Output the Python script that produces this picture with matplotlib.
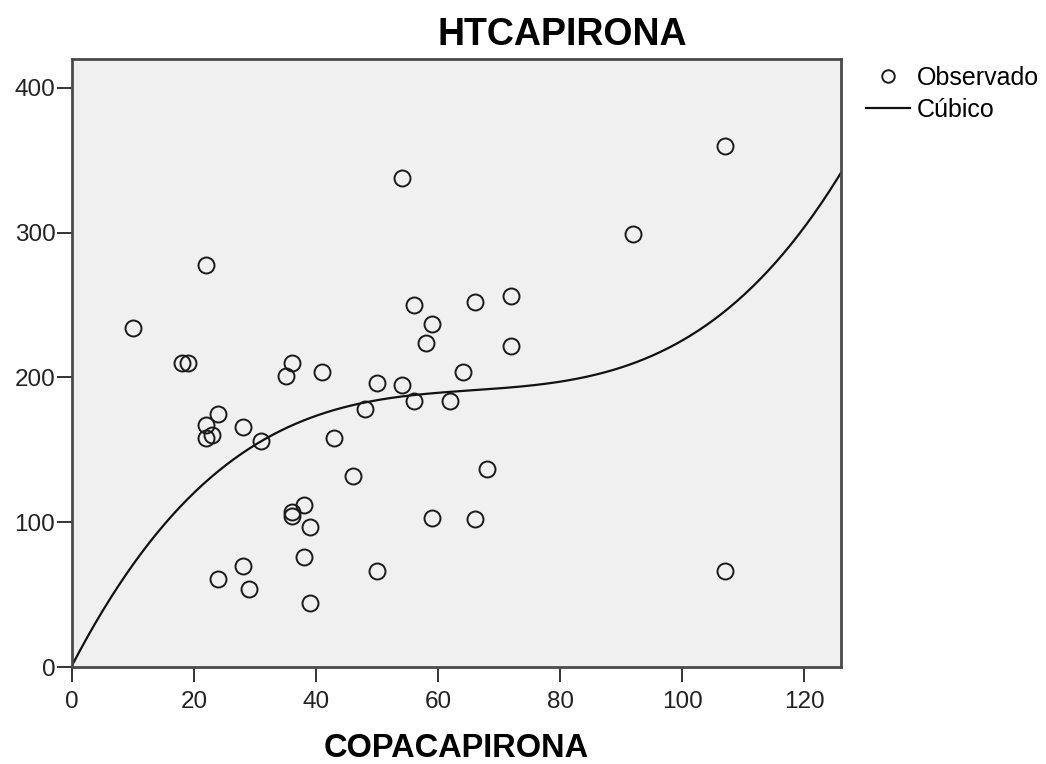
import numpy as np
import matplotlib
matplotlib.use("Agg")
import matplotlib.pyplot as plt
from matplotlib.lines import Line2D

# Observed data (COPACAPIRONA, HTCAPIRONA)
copa = [10, 18, 19, 22, 22, 22, 23, 24, 24, 28, 28, 29, 31, 35, 36, 36, 36,
        38, 38, 39, 39, 41, 43, 46, 48, 50, 50, 54, 54, 56, 56, 58, 59, 59,
        62, 64, 66, 66, 68, 72, 72, 92, 107, 107]
ht = [234, 210, 210, 278, 167, 158, 160, 175, 61, 166, 70, 54, 156, 201, 210,
      107, 104, 112, 76, 97, 44, 204, 158, 132, 178, 196, 66, 338, 195, 250,
      184, 224, 237, 103, 184, 204, 252, 102, 137, 256, 222, 299, 360, 66]

# Cubic model coefficients: y = b0 + b1 x + b2 x^2 + b3 x^3
b0, b1, b2, b3 = 1.0, 8.11, -0.1191, 6.046e-4

title = "HTCAPIRONA"
xlabel = "COPACAPIRONA"
xticks = [0, 20, 40, 60, 80, 100, 120]
yticks = [0, 100, 200, 300, 400]
legend_labels = ["Observado", "Cúbico"]

plt.rcParams['font.family'] = ['Liberation Sans', 'DejaVu Sans']

W, H = 1046, 764
fig = plt.figure(figsize=(W / 100, H / 100), dpi=100)
ax = fig.add_axes([72 / W, (H - 667) / H, (841 - 72) / W, (667 - 59) / H])
ax.set_facecolor('#f0f0f0')

ax.plot(copa, ht, linestyle='none', marker='o', markersize=11.5,
        markerfacecolor='none', markeredgecolor='#1a1a1a', markeredgewidth=1.4,
        zorder=3)

xs = np.linspace(0, 126, 400)
ys = b0 + b1 * xs + b2 * xs ** 2 + b3 * xs ** 3
ax.plot(xs, ys, color='#111111', linewidth=1.6, zorder=2)

ax.set_xlim(0, 126)
ax.set_ylim(0, 420)
ax.set_xticks(xticks)
ax.set_yticks(yticks)
ax.tick_params(axis='both', direction='out', length=11, width=1.4,
               color='#333333', labelsize=17.5, labelcolor='#222222', pad=6)
ax.tick_params(axis='y', pad=1)
for s in ax.spines.values():
    s.set_linewidth(2)
    s.set_color('#4a4a4a')

fig.text(456.5 / W, 1 - 757 / H, xlabel, fontsize=23.5, fontweight='bold',
         ha='center', va='baseline')
fig.text(562 / W, 1 - 45 / H, title, fontsize=27, fontweight='bold',
         ha='center', va='baseline')

handles = [Line2D([], [], linestyle='none', marker='o', markersize=9,
                  markerfacecolor='none', markeredgecolor='#1a1a1a',
                  markeredgewidth=1.4),
           Line2D([], [], color='#111111', linewidth=1.6)]
fig.legend(handles, legend_labels, loc='upper left',
           bbox_to_anchor=(866 / W, 1 - 66 / H), frameon=False,
           fontsize=18, handlelength=1.75, handletextpad=0.3,
           labelspacing=0.32, borderaxespad=0, borderpad=0)

fig.savefig('out.png', dpi=100)
